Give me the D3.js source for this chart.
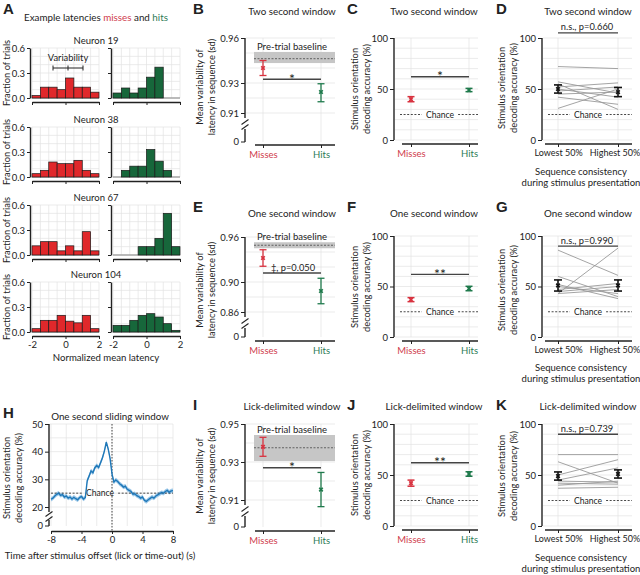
<!DOCTYPE html>
<html><head><meta charset="utf-8">
<script src="https://cdn.jsdelivr.net/npm/d3@7"></script>
<style>
body{margin:0;background:#fff}
svg{display:block}
text{font-family:Lato,'Open Sans',sans-serif;fill:#222}
</style>
</head><body><script>
// ---------------- DATA ----------------
const histBinStarts = [-2,-1.5,-1,-0.5,0,0.5,1,1.5];
const histYTicks = [0,0.3,0.6];
const histXTicks = [-2,0,2];
const neuronLabels = ["Neuron 19","Neuron 38","Neuron 67","Neuron 104"];
const missesN19  = [0.03,0.13,0.13,0.10,0.24,0.13,0.13,0.07];
const hitsN19    = [0.06,0.12,0.06,0.12,0.25,0.37,0,0];
const missesN38  = [0.04,0.08,0.18,0.16,0.16,0.20,0.08,0.04];
const hitsN38    = [0,0.08,0.13,0.13,0.33,0.19,0.08,0];
const missesN67  = [0.11,0.16,0.16,0.05,0.11,0.05,0.28,0.05];
const hitsN67    = [0,0,0,0.10,0.10,0.20,0.50,0.10];
const missesN104 = [0.04,0.14,0.14,0.20,0.13,0.11,0.20,0.04];
const hitsN104   = [0.08,0.08,0.14,0.20,0.22,0.18,0.10,0.02];

const outcomeCats = ["Misses","Hits"];
const consistencyCats = ["Lowest 50%","Highest 50%"];

// variability (sd) panels B, E, I : [misses, hits]
const varTwoMean = [0.940,0.924], varTwoLo = [0.935,0.9175], varTwoHi = [0.945,0.9295];
const varTwoBaseline = [0.9433,0.9462,0.9507];   // lo, mean, hi
const varTwoTicks = [0.91,0.93,0.96];
const varTwoSig = 0.9325;
const varOneMean = [0.932,0.888], varOneLo = [0.921,0.871], varOneHi = [0.943,0.905];
const varOneBaseline = [0.945,0.949,0.953];
const varOneTicks = [0.86,0.90,0.96];
const varOneSig = 0.912;
const varLickMean = [0.938,0.9155], varLickLo = [0.933,0.9065], varLickHi = [0.943,0.9245];
const varLickBaseline = [0.9305,0.9375,0.9442];
const varLickTicks = [0.91,0.93,0.95];
const varLickSig = 0.927;

// decoding accuracy panels C, F, J : [misses, hits]
const chanceLevel = 25;
const decTicks = [0,50,100];
const decTwoMean = [40,49],  decTwoErr = [2.5,1.6], decTwoSig = 62;
const decOneMean = [37,48],  decOneErr = [2.0,2.2], decOneSig = 62;
const decLickMean = [42,51], decLickErr = [3.0,2.2], decLickSig = 62;

// sequence consistency panels D, G, K : [lowest, highest]
const consTwoMean = [50,47], consTwoErr = [4,4.5], consTwoSig = 105;
const consTwoPairs = [[72,70],[57,46],[55,30],[52,56],[50,42],[48,52],[45,47],[42,35],[31,50]];
const consOneMean = [51,51], consOneErr = [5.5,5.5], consOneSig = 90;
const consOnePairs = [[86,61],[43,88],[60,40],[52,38],[50,43],[47,53],[45,50],[43,47]];
const consLickMean = [49,51], consLickErr = [4,4], consLickSig = 90;
const consLickPairs = [[70,70],[63,42],[50,65],[45,57],[44,43],[42,41],[40,44],[37,38]];

// H: sliding window decoding
const slidingTime = [-8,-7.75,-7.5,-7.25,-7,-6.75,-6.5,-6.25,-6,-5.75,-5.5,-5.25,-5,-4.75,-4.5,-4.25,-4,-3.75,-3.5,-3.25,-3,-2.75,-2.5,-2.25,-2,-1.75,-1.5,-1.25,-1,-0.75,-0.5,-0.25,0,0.25,0.5,0.75,1,1.25,1.5,1.75,2,2.25,2.5,2.75,3,3.25,3.5,3.75,4,4.25,4.5,4.75,5,5.25,5.5,5.75,6,6.25,6.5,6.75,7,7.25,7.5,7.75,8];
const slidingAcc = [22.8,23.2,24.0,24.6,25.0,24.2,24.5,23.6,24.0,23.2,23.6,22.9,23.5,23.0,22.6,23.4,23.8,22.9,23.4,29.5,31.2,33.0,32.4,34.2,35.0,34.3,36.0,37.8,40.2,43.4,41.0,37.5,32.0,29.0,29.8,29.2,28.4,27.9,27.2,27.5,26.4,26.0,25.6,24.6,24.8,24.1,23.8,23.2,23.6,22.4,22.0,22.6,23.1,23.6,23.2,24.0,24.4,24.8,25.2,25.0,25.6,26.0,25.3,25.8,25.9];
const slidingSem = 0.8;
const slidingYTicks = [20,30,40,50];
const slidingXTicks = [-8,-4,0,4,8];

// ---------------- DRAWING ----------------
const COL = {miss:"#d8323f", hit:"#1f7a4c", missTxt:"#cf3d4d", hitTxt:"#2d7c56",
             histRed:"#e0282b", histGreen:"#17673b", grid:"#e3e3e3", axis:"#222", blue:"#1f78b8", band:"#9ec9e9"};
const svg = d3.select("body").append("svg").attr("width",640).attr("height",575);

function txt(x,y,s,o={}){
  const t = svg.append("text").attr("x",x).attr("y",y).text(s)
    .attr("font-size",o.size||9).attr("text-anchor",o.anchor||"middle");
  if(o.weight) t.attr("font-weight",o.weight);
  if(o.fill) t.style("fill",o.fill);
  if(o.family) t.style("font-family",o.family);
  if(o.rotate) t.attr("transform",`rotate(-90,${x},${y})`);
  return t;
}
function ln(x1,y1,x2,y2,stroke,w,dash){
  const l = svg.append("line").attr("x1",x1).attr("y1",y1).attr("x2",x2).attr("y2",y2)
    .attr("stroke",stroke).attr("stroke-width",w||1);
  if(dash) l.attr("stroke-dasharray",dash);
  return l;
}
function letter(x,y,s){ txt(x,y,s,{size:15,weight:"bold",anchor:"start",family:"'Liberation Sans',Arial,sans-serif"}); }
function styleAxis(g){
  g.attr("font-family",null).attr("font-size",null);
  g.selectAll(".domain").attr("stroke",COL.axis).attr("stroke-width",1.4);
  g.selectAll(".tick line").attr("stroke",COL.axis).attr("stroke-width",1);
  g.selectAll(".tick text").attr("font-size",9.5).style("fill","#222");
}
function ylab2(x,y,l1,l2){ txt(x,y,l1,{rotate:true,size:9.3}); txt(x+11.5,y,l2,{rotate:true,size:9.3}); }
function breakMarks(x,y){
  ln(x-3.5,y+2.5,x+3.5,y-2.5,COL.axis,1.1);
  ln(x-3.5,y+7.5,x+3.5,y+2.5,COL.axis,1.1);
}
function chanceLine(x0,x1,yy,cx){
  const t = txt(cx,yy+3,"Chance",{size:8.6});
  const w = t.node().getComputedTextLength()/2+4;
  ln(x0,yy,cx-w,yy,"#333",0.9,"2,1.6");
  ln(cx+w,yy,x1,yy,"#333",0.9,"2,1.6");
}
function errBar(x,yLo,yHi,yMean,color,cap,w){
  ln(x,yLo,x,yHi,color,w);
  ln(x-cap,yLo,x+cap,yLo,color,w);
  ln(x-cap,yHi,x+cap,yHi,color,w);
  svg.append("path").attr("d",d3.symbol(d3.symbolCross,14)())
    .attr("transform",`translate(${x},${yMean}) rotate(45)`).attr("fill",color);
}

// ---------- Panel A ----------
letter(3,14,"A");
{
  const t = svg.append("text").attr("x",96).attr("y",21).attr("text-anchor","middle").attr("font-size",9.8);
  t.append("tspan").text("Example latencies ");
  t.append("tspan").text("misses").style("fill",COL.missTxt);
  t.append("tspan").text(" and ");
  t.append("tspan").text("hits").style("fill",COL.hitTxt);
}
function hist(x0,x1,yTop,yBot,vals,fill,showY,showX){
  const x = d3.scaleLinear().domain([-2,2]).range([x0,x1]);
  const y = d3.scaleLinear().domain([0,0.6]).range([yBot,yTop]);
  d3.range(-2,2.01,0.5).forEach(v=>ln(x(v),yTop,x(v),yBot,COL.grid,0.7));
  d3.range(0.1,0.61,0.1).forEach(v=>ln(x0,y(v),x1,y(v),COL.grid,0.7));
  ln(x0,y(0),x1,y(0),"#a3a3a3",1.6);
  svg.append("g").selectAll("rect")
    .data(histBinStarts.map((b,i)=>({b,v:vals[i]})).filter(d=>d.v>0)).join("rect")
    .attr("x",d=>x(d.b)).attr("width",d=>x(d.b+0.5)-x(d.b))
    .attr("y",d=>y(d.v)).attr("height",d=>y(0)-y(d.v))
    .attr("fill",fill).attr("stroke","#1a1a1a").attr("stroke-width",0.7);
  const ya = svg.append("g").attr("transform",`translate(${x0-2},0)`)
    .call(d3.axisLeft(y).tickValues(histYTicks).tickSize(3).tickSizeOuter(0).tickPadding(2)
      .tickFormat(showY?d3.format(".1f"):()=>""));
  styleAxis(ya);
  const xa = svg.append("g").attr("transform",`translate(0,${yBot+4})`)
    .call(d3.axisBottom(x).tickValues(histXTicks).tickSize(3).tickSizeOuter(0).tickPadding(2)
      .tickFormat(showX?(d=>String(d)):()=>""));
  styleAxis(xa);
}
const histRowsTop = [48,127,205,282];
const histMiss = [missesN19,missesN38,missesN67,missesN104];
const histHit = [hitsN19,hitsN38,hitsN67,hitsN104];
histRowsTop.forEach((top,i)=>{
  txt(96,top-4,neuronLabels[i],{size:9.5});
  hist(32,99,top,top+50,histMiss[i],COL.histRed,true,i===3);
  hist(113,180,top,top+50,histHit[i],COL.histGreen,false,i===3);
  txt(10,top+25,"Fraction of trials",{rotate:true,size:9.3});
});
// variability annotation
ln(53,68,83,68,"#222",1);
ln(53,65.5,53,70.5,"#222",1); ln(83,65.5,83,70.5,"#222",1); ln(68,65.5,68,70.5,"#222",1);
txt(68,61,"Variability",{size:9.3});
txt(106,361,"Normalized mean latency",{size:9.6});

// ---------- Categorical panels ----------
function catPanel(p){
  const y = d3.scaleLinear().domain(p.domain).range([p.yBot,p.yTop]);
  const x = d3.scalePoint().domain(p.cats).range([p.xA,p.xB]);
  p.grid.forEach(v=>ln(p.axisX+1,y(v),p.xEnd,y(v),COL.grid,0.7));
  p.cats.forEach(c=>ln(x(c),p.yTop,x(c),p.zeroY,COL.grid,0.7));
  if(p.base){
    svg.append("rect").attr("x",p.bandX0).attr("width",p.xEnd-p.bandX0)
      .attr("y",y(p.base[2])).attr("height",y(p.base[0])-y(p.base[2])).attr("fill","#c6c6c6");
    ln(p.bandX0,y(p.base[1]),p.xEnd,y(p.base[1]),"#555",0.9,"2,1.5");
    txt((p.xA+p.xB)/2,y(p.base[2])-2,"Pre-trial baseline",{size:9.5});
  }
  if(p.chance!=null) chanceLine(p.axisX+6,p.xEnd,y(p.chance),(p.xA+p.xB)/2);
  // y axis
  const ya = svg.append("g").attr("transform",`translate(${p.axisX},0)`)
    .call(d3.axisLeft(y).tickValues(p.ticks).tickSize(4).tickPadding(2).tickSizeOuter(0).tickFormat(d3.format(p.fmt)));
  styleAxis(ya);
  ya.select(".domain").remove();
  if(p.broken){
    ln(p.axisX,p.yTop,p.axisX,p.yBot+5,COL.axis,1.4);
    breakMarks(p.axisX,p.yBot+9);
    ln(p.axisX,p.yBot+16,p.axisX,p.zeroY,COL.axis,1.4);
    ln(p.axisX-4,p.zeroY,p.axisX,p.zeroY,COL.axis,1);
    txt(p.axisX-6,p.zeroY+3,"0",{anchor:"end",size:9.5});
  } else {
    ln(p.axisX,p.yTop,p.axisX,p.zeroY,COL.axis,1.4);
  }
  // x axis
  const xa = svg.append("g").attr("transform",`translate(0,${p.xAxisY})`)
    .call(d3.axisBottom(x).tickSize(3).tickPadding(3));
  styleAxis(xa);
  xa.select(".domain").remove();
  ln(p.xAxis0,p.xAxisY,p.xEnd,p.xAxisY,COL.axis,1.5);
  xa.selectAll(".tick text").style("fill",(d,i)=>p.labelColors[i]).attr("font-size",p.catSize||9.5)
    .attr("dx",(d,i)=>p.catDx?p.catDx[i]:0);
  // paired lines
  if(p.pairs){
    p.pairs.forEach(pr=>ln(x(p.cats[0]),y(pr[0]),x(p.cats[1]),y(pr[1]),"#9a9a9a",0.9));
  }
  // significance
  ln(x(p.cats[0]),y(p.sig),x(p.cats[1]),y(p.sig),"#444",1.4);
  if(p.sigStar) txt((p.xA+p.xB)/2,y(p.sig)+4.5,p.sigText,{size:14});
  else txt((p.xA+p.xB)/2+(p.sigDx||0),y(p.sig)-2.5,p.sigText,{size:9.3});
  // error bars
  p.cats.forEach((c,i)=>{
    errBar(x(c),y(p.lo[i]),y(p.hi[i]),y(p.mean[i]),p.barColors[i],p.cap,p.barW);
  });
  txt((p.xA+p.xB)/2+ (p.titleDx||0),p.titleY,p.title,{size:9.8});
}
const fmtAxis = (mean,err)=>({lo:mean.map((m,i)=>m-err[i]),hi:mean.map((m,i)=>m+err[i])});

// B
letter(193,14,"B");
catPanel({cats:outcomeCats,domain:[0.91,0.96],yBot:113,yTop:38,axisX:245,xA:263,xB:321,xEnd:335,xAxis0:255,
  zeroY:142,xAxisY:145,ticks:varTwoTicks,fmt:".2f",grid:d3.range(0.91,0.9601,0.01),broken:true,
  base:varTwoBaseline,bandX0:254,mean:varTwoMean,lo:varTwoLo,hi:varTwoHi,sig:varTwoSig,sigText:"*",sigStar:true,
  barColors:[COL.miss,COL.hit],labelColors:[COL.missTxt,COL.hitTxt],cap:3.5,barW:1.3,title:"Two second window",titleY:15});
ylab2(203,87,"Mean variability of","latency in sequence (sd)");
// E
letter(193,212,"E");
catPanel({cats:outcomeCats,domain:[0.86,0.96],yBot:312,yTop:237,axisX:245,xA:263,xB:321,xEnd:335,xAxis0:255,
  zeroY:337,xAxisY:341,ticks:varOneTicks,fmt:".2f",grid:d3.range(0.86,0.9601,0.02),broken:true,
  base:varOneBaseline,bandX0:254,mean:varOneMean,lo:varOneLo,hi:varOneHi,sig:varOneSig,sigText:"‡, p=0.050",sigStar:false,sigDx:1,
  barColors:[COL.miss,COL.hit],labelColors:[COL.missTxt,COL.hitTxt],cap:3.5,barW:1.3,title:"One second window",titleY:217});
ylab2(203,290,"Mean variability of","latency in sequence (sd)");
// I
letter(193,410,"I");
catPanel({cats:outcomeCats,domain:[0.91,0.95],yBot:500,yTop:424,axisX:245,xA:263,xB:321,xEnd:335,xAxis0:255,
  zeroY:527,xAxisY:531,ticks:varLickTicks,fmt:".2f",grid:d3.range(0.91,0.9501,0.01),broken:true,
  base:varLickBaseline,bandX0:254,mean:varLickMean,lo:varLickLo,hi:varLickHi,sig:varLickSig,sigText:"*",sigStar:true,
  barColors:[COL.miss,COL.hit],labelColors:[COL.missTxt,COL.hitTxt],cap:3.5,barW:1.3,title:"Lick-delimited window",titleY:410});
ylab2(203,476,"Mean variability of","latency in sequence (sd)");

// C, F, J
const decPanels = [
  {L:"C",ly:14,yTop:38,yBot:140,xAxisY:144,mean:decTwoMean,err:decTwoErr,sig:decTwoSig,st:"*",title:"Two second window",ty:15,lc:89},
  {L:"F",ly:212,yTop:236,yBot:337,xAxisY:341,mean:decOneMean,err:decOneErr,sig:decOneSig,st:"**",title:"One second window",ty:217,lc:287},
  {L:"J",ly:410,yTop:424,yBot:526,xAxisY:530,mean:decLickMean,err:decLickErr,sig:decLickSig,st:"**",title:"Lick-delimited window",ty:410,lc:475}
];
decPanels.forEach(d=>{
  letter(347,d.ly,d.L);
  const e = fmtAxis(d.mean,d.err);
  catPanel({cats:outcomeCats,domain:[0,100],yBot:d.yBot,yTop:d.yTop,axisX:394,xA:411,xB:469,xEnd:478,xAxis0:402,
    zeroY:d.yBot,xAxisY:d.xAxisY,ticks:decTicks,fmt:"d",grid:d3.range(0,101,10),broken:false,chance:chanceLevel,
    mean:d.mean,lo:e.lo,hi:e.hi,sig:d.sig,sigText:d.st,sigStar:true,
    barColors:[COL.miss,COL.hit],labelColors:[COL.missTxt,COL.hitTxt],cap:3.5,barW:1.5,title:d.title,titleY:d.ty,titleDx:-6});
  ylab2(358,d.lc,"Stimulus orientation","decoding accuracy (%)");
});

// D, G, K
const consPanels = [
  {L:"D",ly:14,yTop:38,yBot:140,xAxisY:144,mean:consTwoMean,err:consTwoErr,sig:consTwoSig,st:"n.s., p=0.660",pairs:consTwoPairs,title:"Two second window",ty:15,lc:88,xl:172},
  {L:"G",ly:212,yTop:236,yBot:337,xAxisY:341,mean:consOneMean,err:consOneErr,sig:consOneSig,st:"n.s., p=0.990",pairs:consOnePairs,title:"One second window",ty:217,lc:290,xl:368},
  {L:"K",ly:410,yTop:424,yBot:526,xAxisY:530,mean:consLickMean,err:consLickErr,sig:consLickSig,st:"n.s., p=0.739",pairs:consLickPairs,title:"Lick-delimited window",ty:410,lc:476,xl:558}
];
consPanels.forEach(d=>{
  letter(496,d.ly,d.L);
  const e = fmtAxis(d.mean,d.err);
  catPanel({cats:consistencyCats,domain:[0,100],yBot:d.yBot,yTop:d.yTop,axisX:542,xA:558,xB:618,xEnd:632,xAxis0:545,
    zeroY:d.yBot,xAxisY:d.xAxisY,ticks:decTicks,fmt:"d",grid:d3.range(0,101,10),broken:false,chance:chanceLevel,
    mean:d.mean,lo:e.lo,hi:e.hi,sig:d.sig,sigText:d.st,sigStar:false,pairs:d.pairs,sigDx:-1,catSize:9,catDx:[0,-3.5],
    barColors:["#111","#111"],labelColors:["#222","#222"],cap:4,barW:1.6,title:d.title,titleY:d.ty});
  ylab2(505,d.lc,"Stimulus orientation","decoding accuracy (%)");
  txt(581,d.xl+3,"Sequence consistency",{size:9.5});
  txt(581,d.xl+14,"during stimulus presentation",{size:9.5});
});

// ---------- Panel H ----------
letter(3,418,"H");
{
  const x = d3.scaleLinear().domain([-8,8]).range([51,173]);
  const y = d3.scaleLinear().domain([20,50]).range([507,424]);
  const zeroY = 526, axisX = 49, xAxisY = 531;
  d3.range(-8,8.01,2).forEach(v=>ln(x(v),424,x(v),zeroY,COL.grid,0.7));
  d3.range(20,50.01,5).forEach(v=>ln(axisX+1,y(v),173,y(v),COL.grid,0.7));
  const pts = slidingTime.map((t,i)=>({t,v:slidingAcc[i]}));
  svg.append("path").datum(pts)
    .attr("d",d3.area().x(d=>x(d.t)).y0(d=>y(d.v-slidingSem)).y1(d=>y(d.v+slidingSem)))
    .attr("fill",COL.band);
  chanceLine(axisX+2,173,y(chanceLevel),100);
  ln(x(0),424,x(0),xAxisY,"#333",0.9,"1.5,1.5");
  svg.append("path").datum(pts)
    .attr("d",d3.line().x(d=>x(d.t)).y(d=>y(d.v)))
    .attr("fill","none").attr("stroke",COL.blue).attr("stroke-width",1.4);
  const ya = svg.append("g").attr("transform",`translate(${axisX},0)`)
    .call(d3.axisLeft(y).tickValues(slidingYTicks).tickSize(4).tickPadding(2).tickSizeOuter(0));
  styleAxis(ya); ya.select(".domain").remove();
  ln(axisX,424,axisX,512,COL.axis,1.4);
  breakMarks(axisX,514);
  ln(axisX,520,axisX,zeroY,COL.axis,1.4);
  ln(axisX-4,zeroY,axisX,zeroY,COL.axis,1);
  txt(axisX-6,zeroY+3,"0",{anchor:"end",size:9.5});
  const xa = svg.append("g").attr("transform",`translate(0,${xAxisY})`)
    .call(d3.axisBottom(x).tickValues(slidingXTicks).tickSize(3).tickPadding(2).tickSizeOuter(0).tickFormat(d=>String(d)));
  styleAxis(xa);
  txt(110,420,"One second sliding window",{size:9.8});
  ylab2(10,478,"Stimulus orientation","decoding accuracy (%)");
  txt(100,559,"Time after stimulus offset (lick or time-out) (s)",{size:9.6});
}
</script></body></html>
